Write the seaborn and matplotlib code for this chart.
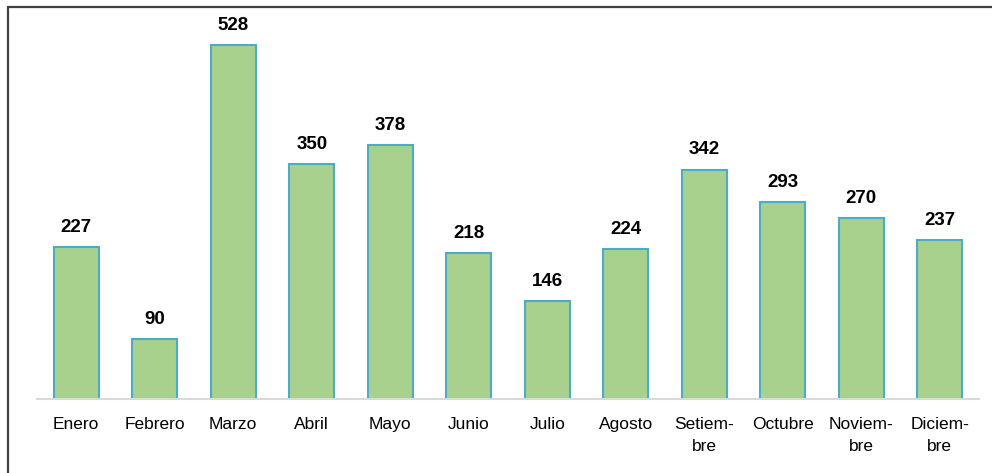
import matplotlib
matplotlib.use('Agg')
import matplotlib.pyplot as plt
from matplotlib.lines import Line2D
import seaborn as sns

# data
meses = ['Enero', 'Febrero', 'Marzo', 'Abril', 'Mayo', 'Junio', 'Julio', 'Agosto',
         'Setiem-\nbre', 'Octubre', 'Noviem-\nbre', 'Diciem-\nbre']
valores = [227, 90, 528, 350, 378, 218, 146, 224, 342, 293, 270, 237]

sns.set_style('white')
plt.rcParams['font.family'] = ['Liberation Sans', 'DejaVu Sans']

W, H = 992, 473
fig = plt.figure(figsize=(W / 100, H / 100), dpi=100)
ax = fig.add_axes([37 / W, 74 / H, (979 - 37) / W, 379 / H])

sns.barplot(x=meses, y=valores, color='#A9D18E', saturation=1, width=0.57,
            edgecolor='#4BACC6', linewidth=1.5, ax=ax)

ax.bar_label(ax.containers[0], padding=8, fontsize=13.5, fontweight='bold', color='black')

ax.set_ylim(0, 565)
ax.set_xlim(-0.5, len(meses) - 0.5)
ax.set_yticks([])
ax.set_xlabel('')
ax.set_ylabel('')
for s in ['top', 'right', 'left']:
    ax.spines[s].set_visible(False)
ax.spines['bottom'].set_color('#D9D9D9')
ax.spines['bottom'].set_linewidth(1.5)
ax.tick_params(axis='x', length=0, pad=13, labelsize=12.5, labelcolor='black')
for lbl in ax.get_xticklabels():
    lbl.set_linespacing(1.55)

# outer frame (left and top edges only are visible)
fx, fy = 7.5 / W, 1 - 7.5 / H
fig.add_artist(Line2D([fx, fx], [0, fy], transform=fig.transFigure, color='#404040', lw=1.6))
fig.add_artist(Line2D([fx, 1], [fy, fy], transform=fig.transFigure, color='#404040', lw=1.6))

fig.savefig('out.png', dpi=100)
